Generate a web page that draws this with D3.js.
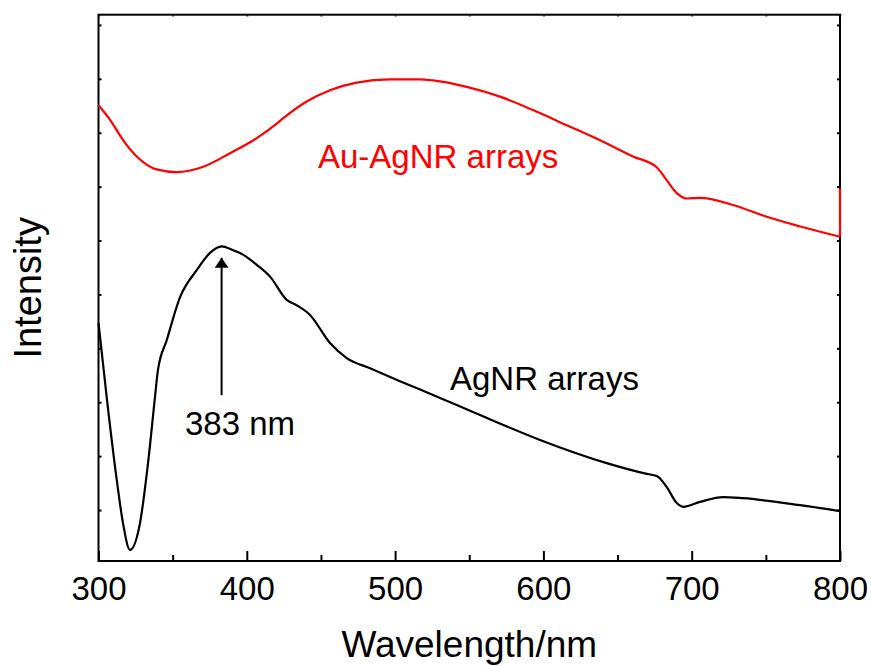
<!DOCTYPE html>
<html>
<head>
<meta charset="utf-8">
<script src="https://cdn.jsdelivr.net/npm/d3@7"></script>
<style>
  body { margin: 0; background: #fff; }
  svg { display: block; font-family: "Liberation Sans", Arial, sans-serif; }
</style>
</head>
<body>
<svg id="chart" width="871" height="666"></svg>
<script>
// wavelength (nm) / intensity (a.u.)
const agnrWave = [300, 305.5, 312.3, 316.5, 321.2, 328, 333.4, 338.1, 340.1, 346, 355, 366.2, 375.2, 383.1, 390.7, 395.4, 406.7, 415.7, 426.9, 433.6, 442.6, 456.1, 467.4, 483.1, 503.3, 530.3, 552.5, 597.7, 642.7, 669.7, 676.4, 683.1, 689.9, 694.3, 705.6, 721.1, 734.6, 773, 800];
const agnrInt = [4.47, 3.10, 1.56, 0.76, 0.26, 0.76, 1.87, 3.10, 3.60, 4.15, 4.95, 5.45, 5.77, 5.89, 5.82, 5.77, 5.55, 5.33, 4.90, 4.80, 4.62, 4.10, 3.82, 3.63, 3.39, 3.08, 2.82, 2.30, 1.87, 1.67, 1.63, 1.43, 1.13, 1.06, 1.15, 1.24, 1.22, 1.09, 0.98];

const auWave = [300, 307.8, 316.7, 325.8, 339.2, 352.7, 370.7, 388.7, 406.7, 420.2, 424.6, 440.4, 456.1, 474.1, 496.6, 516.8, 525.6, 548.3, 570.7, 593, 615.7, 638.2, 660.4, 676.4, 683.1, 689.9, 696.6, 705.6, 727.8, 750.6, 773.3, 800];
const auInt = [8.51, 8.24, 7.86, 7.56, 7.32, 7.27, 7.37, 7.62, 7.90, 8.17, 8.27, 8.58, 8.79, 8.93, 8.99, 8.99, 8.97, 8.85, 8.67, 8.42, 8.14, 7.86, 7.56, 7.36, 7.12, 6.88, 6.78, 6.79, 6.66, 6.44, 6.26, 6.07];
const auTailInt = 6.97; // last reading jumps up at 800 nm

const xMajor = [300, 400, 500, 600, 700, 800];
const xMinor = [350, 450, 550, 650, 750];
const yTicks = [1, 2, 3, 4, 5, 6, 7, 8, 9, 10];

const peakWave = 383;
const arrowFrom = 3.13, arrowTo = 5.68;

const CONFIG = {
    left: 98.5, right: 840, top: 14.7, bottom: 561,
    font: 33
};

const svg = d3.select('#chart');
const x = d3.scaleLinear().domain([300, 800]).range([CONFIG.left, CONFIG.right]);
const y = d3.scaleLinear().domain([0.054, 10.19]).range([CONFIG.bottom, CONFIG.top]);

function tidy(g) {
    g.select('.domain').remove();
    g.selectAll('.tick line').attr('stroke', '#000').attr('stroke-width', 2);
}

// bottom axis, ticks pointing inward
svg.append('g')
    .attr('transform', `translate(0,${CONFIG.bottom})`)
    .call(d3.axisBottom(x).tickValues(xMajor).tickSize(-10).tickPadding(0).tickFormat(d3.format('d')))
    .call(tidy)
    .call(g => g.selectAll('text')
        .attr('y', 39).attr('dy', null)
        .attr('fill', '#000').attr('font-size', CONFIG.font)
        .attr('font-family', '"Liberation Sans", Arial, sans-serif'));
svg.append('g')
    .attr('transform', `translate(0,${CONFIG.bottom})`)
    .call(d3.axisBottom(x).tickValues(xMinor).tickSize(-6).tickFormat(''))
    .call(tidy);

// top axis: tiny marks only
svg.append('g')
    .attr('transform', `translate(0,${CONFIG.top})`)
    .call(d3.axisTop(x).tickValues(xMajor.concat(xMinor)).tickSize(-2).tickFormat(''))
    .call(tidy)
    .call(g => g.selectAll('.tick line').attr('stroke', '#666'));

// left / right axes, short inward ticks, no labels
svg.append('g')
    .attr('transform', `translate(${CONFIG.left},0)`)
    .call(d3.axisLeft(y).tickValues(yTicks).tickSize(-3).tickFormat(''))
    .call(tidy);
svg.append('g')
    .attr('transform', `translate(${CONFIG.right},0)`)
    .call(d3.axisRight(y).tickValues(yTicks).tickSize(-3).tickFormat(''))
    .call(tidy);

// frame
svg.append('rect')
    .attr('x', CONFIG.left).attr('y', CONFIG.top)
    .attr('width', CONFIG.right - CONFIG.left)
    .attr('height', CONFIG.bottom - CONFIG.top)
    .attr('fill', 'none').attr('stroke', '#000').attr('stroke-width', 2);

const line = d3.line().x(d => x(d[0])).y(d => y(d[1])).curve(d3.curveMonotoneX);

const agnr = agnrWave.map((w, i) => [w, agnrInt[i]]);
const au = auWave.map((w, i) => [w, auInt[i]]);

svg.append('path')
    .datum(agnr)
    .attr('d', line)
    .attr('fill', 'none').attr('stroke', '#000').attr('stroke-width', 2.2);

svg.append('path')
    .datum(au)
    .attr('d', line)
    .attr('fill', 'none').attr('stroke', '#ff0000').attr('stroke-width', 2.2);
svg.append('path')
    .datum([au[au.length - 1], [800, auTailInt]])
    .attr('d', d3.line().x(d => x(d[0])).y(d => y(d[1])))
    .attr('fill', 'none').attr('stroke', '#ff0000').attr('stroke-width', 2.2);

// arrow to the peak
svg.append('defs').append('marker')
    .attr('id', 'head')
    .attr('viewBox', '0 0 10 14')
    .attr('refX', 10).attr('refY', 7)
    .attr('markerWidth', 10).attr('markerHeight', 14)
    .attr('markerUnits', 'userSpaceOnUse')
    .attr('orient', 'auto')
    .append('path').attr('d', 'M0,0 L10,7 L0,14 Z').attr('fill', '#000');
svg.append('line')
    .attr('x1', x(peakWave)).attr('x2', x(peakWave))
    .attr('y1', y(arrowFrom)).attr('y2', y(arrowTo))
    .attr('stroke', '#000').attr('stroke-width', 2)
    .attr('marker-end', 'url(#head)');

// labels
svg.append('text')
    .attr('x', 185).attr('y', 435)
    .attr('font-size', CONFIG.font).attr('fill', '#000')
    .text('383 nm');
svg.append('text')
    .attr('x', 318).attr('y', 168)
    .attr('font-size', CONFIG.font).attr('fill', '#ff0000')
    .text('Au-AgNR arrays');
svg.append('text')
    .attr('x', 450).attr('y', 390)
    .attr('font-size', CONFIG.font).attr('fill', '#000')
    .text('AgNR arrays');

svg.append('text')
    .attr('x', (CONFIG.left + CONFIG.right) / 2).attr('y', 657)
    .attr('text-anchor', 'middle')
    .attr('font-size', 37).attr('fill', '#000')
    .text('Wavelength/nm');
svg.append('text')
    .attr('transform', `translate(41,${(CONFIG.top + CONFIG.bottom) / 2}) rotate(-90)`)
    .attr('text-anchor', 'middle')
    .attr('font-size', 38).attr('fill', '#000')
    .text('Intensity');
</script>
</body>
</html>
